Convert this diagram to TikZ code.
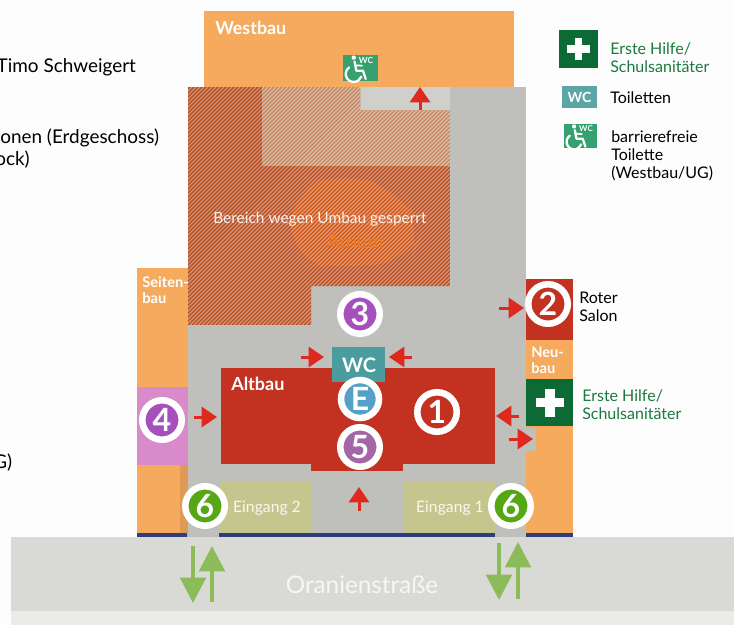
\documentclass[tikz,border=0pt]{standalone}
\usepackage{fontspec}
\setmainfont{Lato}
\usetikzlibrary{arrows.meta}

\definecolor{pagebg}{HTML}{FDFDFD}
\definecolor{roadc}{HTML}{D9D9D6}
\definecolor{roadlow}{HTML}{ECEBE9}
\definecolor{wingc}{HTML}{F5AA5E}
\definecolor{wingdark}{HTML}{E09A55}
\definecolor{floorc}{HTML}{BFBFBC}
\definecolor{floorlight}{HTML}{CFCFCB}
\definecolor{altred}{HTML}{C33220}
\definecolor{tealc}{HTML}{4B9C9E}
\definecolor{pinkc}{HTML}{D88ACB}
\definecolor{entryc}{HTML}{C5C68E}
\definecolor{aidgreen}{HTML}{0C6A34}
\definecolor{aidtext}{HTML}{1B7A3E}
\definecolor{wheelc}{HTML}{36A06E}
\definecolor{quayc}{HTML}{2F3E7A}
\definecolor{arrowred}{HTML}{E0291E}
\definecolor{arrowgreen}{HTML}{8CBB5A}
\definecolor{closedc}{HTML}{B5481A}
\definecolor{closedlight}{HTML}{C18760}
\definecolor{blobc}{HTML}{CC5010}
\definecolor{atriumc}{HTML}{F07A10}
\definecolor{num3c}{HTML}{A650BE}
\definecolor{num5c}{HTML}{A566A8}
\definecolor{numEc}{HTML}{55A0C8}
\definecolor{num6c}{HTML}{55A814}

\tikzset{
  txt/.style={anchor=base west,inner sep=0pt,align=left,font=\fontsize{12}{13.5}\selectfont},
  wing/.style={txt,text=white,font=\fontsize{11}{12}\selectfont\bfseries},
  entry/.style={anchor=base,inner sep=0pt,text=white!88!entryc,font=\fontsize{11.8}{14}\selectfont},
  cuttxt/.style={txt,font=\fontsize{14.2}{16}\selectfont},
  numc/.style={circle,draw=white,line width=4.9pt,minimum size=29.6pt,inner sep=0pt,text=white,
    font=\fontsize{24}{24}\selectfont\bfseries},
  redarrow/.style={draw=arrowred,line width=2.25pt,-{Triangle[width=15pt,length=11.5pt]}},
  greenarrow/.style={draw=arrowgreen,line width=3pt,-{Triangle[width=19pt,length=19pt]}},
  pics/aidcross/.style={code={
    \fill[white] (-14,-4.75) rectangle (14,4.75);
    \fill[white] (-4.75,-14) rectangle (4.75,14);
  }},
  pics/wheelwc/.style={code={
    \fill[wheelc] (0,0) rectangle (35,26);
    \fill[white] (10.7,2.6) circle (2.2);
    \draw[white,line width=1.7pt,line cap=round,line join=round]
      (11.5,6.5) -- (13.3,15.7) -- (20,15.7) -- (22.7,24);
    \draw[white,line width=1.3pt,line cap=round] (12,10.3) -- (19,10.7);
    \draw[white,line width=1.7pt,line cap=round] (10.7,19) ++(-125:8) arc (-125:-340:8);
  }},
}

\begin{document}
\begin{tikzpicture}[x=0.75pt,y=-0.75pt]
\useasboundingbox (0,0) rectangle (734,625);
\fill[pagebg] (0,0) rectangle (734,625);
% street
\fill[roadc] (11,537) rectangle (734,611);
\fill[roadlow] (11,611) rectangle (734,625);
% wings
\fill[wingc] (204,11) rectangle (514,87);
\fill[wingc] (137,268) rectangle (188,537);
\fill[wingdark] (180,465) rectangle (188,533);
\fill[pinkc] (137,387) rectangle (188,465);
\fill[wingc] (526,340) rectangle (573,537);
\fill[altred] (526,279) rectangle (573,340);
\fill[aidgreen] (526,379) rectangle (573,426);
% floor
\fill[floorc] (188,87) rectangle (526,537);
\fill[floorc] (526,428) rectangle (536,451);
\fill[floorlight] (360,87) rectangle (450,110);
% closed part
\begin{scope}
\clip (188,87) -- (360,87) -- (360,110) -- (450,110) -- (450,286) -- (311,286) -- (311,325) -- (188,325) -- cycle;
\fill[closedc] (188,87) rectangle (450,325);
\fill[closedlight] (262,87) rectangle (450,166);
\fill[blobc,rounded corners=28pt] (290,190) -- (340,172) -- (400,190) -- (424,230) -- (410,262) -- (330,268) -- (292,262) -- cycle;
\foreach \k in {0,4,...,500}
  \draw[white,draw opacity=.42,line width=1.05pt] (-50+\k,325) -- ++(238,-238);
\end{scope}
\node[anchor=base,inner sep=0pt,text=atriumc,font=\fontsize{14}{16}\selectfont] (atrium) at (355,248) {Atrium};
% Altbau
\fill[altred] (221,368) rectangle (495,464);
\fill[altred] (311,464) rectangle (403,471);
\fill[tealc] (332,347) rectangle (385,382);
% entrances
\fill[entryc] (219,481) rectangle (311,533);
\fill[entryc] (404,481) rectangle (495,533);
\foreach \xa/\xb in {137/187,219/495,526/573}
  \fill[quayc] (\xa,533) rectangle (\xb,537);
% labels in the plan
\node[txt,text=white,font=\fontsize{13.4}{15}\selectfont\bfseries] (westbau) at (215,34) {Westbau};
\node[txt,text=white!92!closedc,font=\fontsize{11.6}{14}\selectfont] (closed) at (213,223) {Bereich wegen Umbau gesperrt};
\node[wing] (seitenbau) at (142,303) {Seiten-\\bau};
\node[wing] (neubau) at (531,373) {Neu-\\bau};
\node[txt,text=white,font=\fontsize{13.5}{15}\selectfont\bfseries] (altbau) at (231,390) {Altbau};
\node[anchor=base,inner sep=0pt,text=white,font=\fontsize{15}{15}\selectfont\bfseries] (wcmain) at (359,372) {WC};
\node[entry] (eingang2) at (267,512) {Eingang 2};
\node[entry] (eingang1) at (450,512) {Eingang 1};
\node[anchor=base,inner sep=0pt,text=white!75!roadc,font=\fontsize{18.2}{18}\selectfont] (street) at (362,593) {Oranienstraße};
% numbers
\node[numc,fill=altred] (num1) at (437,412) {1};
\node[numc,fill=altred] (num2) at (548,304) {2};
\node[numc,fill=num3c] (num3) at (360,314) {3};
\node[numc,fill=num3c] (num4) at (162,420) {4};
\node[numc,fill=num5c] (num5) at (360,447) {5};
\node[numc,fill=numEc,minimum size=28.5pt] (numE) at (360,399) {E};
\node[numc,fill=num6c] (num6a) at (205,506) {6};
\node[numc,fill=num6c] (num6b) at (511,506) {6};
% red arrows
\foreach \n/\xa/\ya/\xb/\yb in {a/420/110/420/87,b/499/308/524/308,c/301/357/324/357,d/412/357/389/357,
    e/194/417/217/417,f/519/416/496/416,g/509/439/533/439,h/359/511/359/487}{
  \coordinate (s\n) at (\xa,\ya);
  \coordinate (t\n) at (\xb,\yb);
  \draw[redarrow] (s\n) -- (t\n);
}
% green arrows
\foreach \n/\xa/\ya/\yb in {a/193/546/603,b/212/602/546,c/499/543/600,d/518/599/542}{
  \coordinate (p\n) at (\xa,\ya);
  \coordinate (q\n) at (\xa,\yb);
  \draw[greenarrow] (p\n) -- (q\n);
}
% first aid in Neubau
\pic at (550,402.7) {aidcross};
\node[txt,text=aidtext] (aidplan) at (582,419) {Erste Hilfe/\\Schulsanitäter};
\node[txt] (salon) at (579,321.5) {Roter\\Salon};
% Westbau toilet
\pic at (343,55) {wheelwc};
\node[inner sep=0pt,text=white,font=\fontsize{6.3}{7}\selectfont\bfseries] (wcwest) at (366,60) {WC};
% legend
\fill[aidgreen] (559,30) rectangle (598,68);
\pic[scale=.82] at (578.5,49) {aidcross};
\node[txt,text=aidtext] (aidlegend) at (610,72) {Erste Hilfe/\\Schulsanitäter};
\fill[tealc!90!white] (562,86) rectangle (597,108);
\node[inner sep=0pt,text=white,font=\fontsize{10.5}{10}\selectfont\bfseries] (wclegend) at (579.5,97) {WC};
\node[txt] (toiletten) at (610,103) {Toiletten};
\pic[scale=.94] at (564,124) {wheelwc};
\node[inner sep=0pt,text=white,font=\fontsize{6}{7}\selectfont\bfseries] (wcwheel) at (586,129) {WC};
\node[txt] (barriere) at (611,178) {barrierefreie\\Toilette\\(Westbau/UG)};
% cut text at the left
\node[cuttxt] (timo) at (-3.6,72.7) {Timo Schweigert};
\node[cuttxt] (erdgeschoss) at (0,143) {onen (Erdgeschoss)};
\node[cuttxt] (stock) at (-5,165) {ock)};
\node[cuttxt] (ug) at (-7,468) {G)};
\end{tikzpicture}
\end{document}
